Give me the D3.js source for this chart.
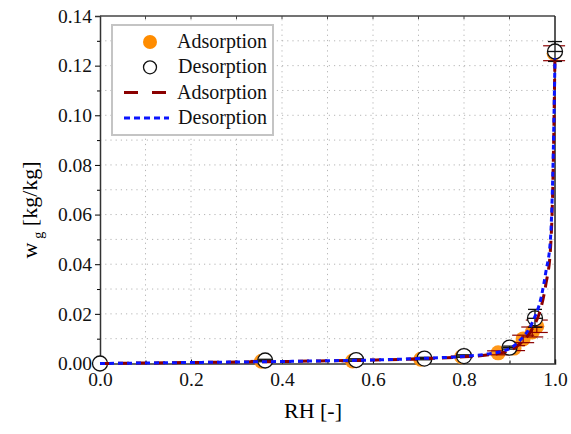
<!DOCTYPE html>
<html>
<head>
<meta charset="utf-8">
<script src="https://cdn.jsdelivr.net/npm/d3@7"></script>
<style>
  html, body { margin: 0; padding: 0; background: #fff; }
  svg { display: block; font-family: "Liberation Serif", "Times New Roman", serif; }
</style>
</head>
<body>
<div id="chart"></div>
<script>
// measured points (RH, moisture content, error)
const adsRH  = [0.0, 0.355, 0.555, 0.705, 0.795, 0.875, 0.91, 0.93, 0.95, 0.96, 0.998];
const adsW   = [0.0, 0.0009, 0.0010, 0.0017, 0.0027, 0.0043, 0.0062, 0.0099, 0.0127, 0.0150, 0.1250];
const adsErr = [0.0, 0.0003, 0.0003, 0.0003, 0.0003, 0.0008, 0.0010, 0.0015, 0.0020, 0.0025, 0.0030];

const desRH  = [0.0, 0.363, 0.563, 0.713, 0.80, 0.90, 0.956, 1.0];
const desW   = [0.0, 0.0012, 0.0014, 0.0020, 0.0030, 0.0064, 0.0182, 0.1257];
const desErr = [0.0, 0.0005, 0.0005, 0.0005, 0.0005, 0.0006, 0.0036, 0.0040];

// fitted curves
const fitRH   = [0.0, 0.1, 0.2, 0.3, 0.4, 0.5, 0.6, 0.7, 0.8, 0.85, 0.9, 0.92, 0.95, 0.97, 0.98, 0.99, 0.995, 1.0];
const fitAdsW = [0.0, 0.0002, 0.0004, 0.0006, 0.0008, 0.0011, 0.0014, 0.0019, 0.0027, 0.0034, 0.0052, 0.0075, 0.0140, 0.0230, 0.0320, 0.0460, 0.0700, 0.1245];
const fitDesW = [0.0, 0.0002, 0.0004, 0.0006, 0.0008, 0.0011, 0.0014, 0.0020, 0.0029, 0.0038, 0.0060, 0.0088, 0.0165, 0.0270, 0.0370, 0.0500, 0.0750, 0.1230];

const xTicks = [0, 0.2, 0.4, 0.6, 0.8, 1.0];
const yTicks = [0, 0.02, 0.04, 0.06, 0.08, 0.10, 0.12, 0.14];

const W = 571, H = 434;
const serif = "Liberation Serif, Times New Roman, serif";
const svg = d3.select("#chart").append("svg").attr("width", W).attr("height", H);

const x = d3.scaleLinear().domain([0, 1]).range([100, 555]);
const y = d3.scaleLinear().domain([0, 0.14]).range([363.5, 16]);

// --- Grid ---
const grid = svg.append("g").attr("stroke", "#b5b5b5").attr("stroke-width", 1).attr("stroke-dasharray", "1.2,4");
grid.selectAll("line.v").data(d3.range(1, 10).map(i => i / 10)).join("line")
  .attr("x1", d => x(d)).attr("x2", d => x(d)).attr("y1", y(0)).attr("y2", y(0.14));
grid.selectAll("line.h").data(d3.range(1, 14).map(i => i / 100)).join("line")
  .attr("x1", x(0)).attr("x2", x(1)).attr("y1", d => y(d)).attr("y2", d => y(d));

// --- Axes ---
const yAxis = svg.append("g").attr("transform", `translate(${x(0)},0)`)
  .call(d3.axisLeft(y).tickValues(yTicks).tickFormat(d3.format(".2f")).tickSize(5).tickPadding(3));
yAxis.selectAll(".tick").filter(d => d === 0.14 || d === 0).select("line").remove();
svg.append("g").attr("transform", `translate(${x(0)},0)`)
  .call(d3.axisLeft(y).tickValues(d3.range(1, 14, 2).map(i => i / 100)).tickSize(3).tickFormat(""))
  .select(".domain").remove();

const xAxis = svg.append("g").attr("transform", `translate(0,${y(0)})`)
  .call(d3.axisBottom(x).tickValues(xTicks).tickFormat(d3.format(".1f")).tickSize(-4).tickPadding(9));
svg.append("g").attr("transform", `translate(0,${y(0)})`)
  .call(d3.axisBottom(x).tickValues(d3.range(1, 10, 2).map(i => i / 10)).tickSize(-3).tickFormat(""))
  .select(".domain").remove();

[yAxis, xAxis].forEach(a => {
  a.attr("font-family", serif);
  a.selectAll("text").attr("font-size", 19.5).attr("fill", "#111");
  a.select(".domain").attr("stroke", "#333").attr("stroke-width", 1.5);
});
// top and right frame
svg.append("line").attr("x1", x(0)).attr("x2", x(1)).attr("y1", y(0.14)).attr("y2", y(0.14))
  .attr("stroke", "#444").attr("stroke-width", 1.5);
svg.append("line").attr("x1", x(1)).attr("x2", x(1)).attr("y1", y(0.14)).attr("y2", y(0))
  .attr("stroke", "#222").attr("stroke-width", 1.5);
svg.append("g").selectAll("line").data(d3.range(1, 10).map(i => i / 10)).join("line")
  .attr("x1", d => x(d)).attr("x2", d => x(d)).attr("y1", y(0.14)).attr("y2", y(0.14) + 3)
  .attr("stroke", "#444");

// --- Axis labels ---
svg.append("text").attr("x", 313).attr("y", 418).attr("text-anchor", "middle")
  .attr("font-family", serif).attr("font-size", 22).text("RH [-]");
const yl = svg.append("text").attr("transform", "translate(37,210) rotate(-90)")
  .attr("text-anchor", "middle").attr("font-family", serif).attr("font-size", 22);
yl.append("tspan").text("w");
yl.append("tspan").attr("font-size", 14).attr("dy", 6).attr("dx", 4).text("g");
yl.append("tspan").attr("dy", -6).text("\u00a0[kg/kg]");

// --- Data ---
const ads = adsRH.map((r, i) => ({ rh: r, w: adsW[i], e: adsErr[i] }));
const des = desRH.map((r, i) => ({ rh: r, w: desW[i], e: desErr[i] }));

svg.append("g").selectAll("circle").data(ads).join("circle")
  .attr("cx", d => x(d.rh)).attr("cy", d => y(d.w)).attr("r", 7.5)
  .attr("fill", "#ff8c00").attr("fill-opacity", 0.9);

function errorBars(data, color, cap, width, cross) {
  const g = svg.append("g").attr("stroke", color).attr("stroke-width", width);
  const eb = g.selectAll("g").data(data.filter(d => d.e > 0)).join("g");
  eb.append("line").attr("x1", d => x(d.rh)).attr("x2", d => x(d.rh))
    .attr("y1", d => y(d.w - d.e)).attr("y2", d => y(d.w + d.e));
  [-1, 1].forEach(s => {
    eb.append("line").attr("x1", d => x(d.rh) - cap).attr("x2", d => x(d.rh) + cap)
      .attr("y1", d => y(d.w + s * d.e)).attr("y2", d => y(d.w + s * d.e));
  });
  if (cross) {
    eb.append("line").attr("x1", d => x(d.rh) - 7).attr("x2", d => x(d.rh) + 7)
      .attr("y1", d => y(d.w)).attr("y2", d => y(d.w));
  }
}
errorBars(ads, "#8b0000", 11, 1.2, false);

svg.append("g").selectAll("circle").data(des).join("circle")
  .attr("cx", d => x(d.rh)).attr("cy", d => y(d.w)).attr("r", 7.5)
  .attr("fill", "#fff").attr("stroke", "#111").attr("stroke-width", 1.3);
errorBars(des, "#111", 7, 1.3, true);

const line = d3.line().x(d => x(d[0])).y(d => y(d[1])).curve(d3.curveMonotoneX);
svg.append("path").datum(fitRH.map((r, i) => [r, fitAdsW[i]]))
  .attr("d", line).attr("fill", "none").attr("stroke", "#8b0000")
  .attr("stroke-width", 3).attr("stroke-dasharray", "11,7");
svg.append("path").datum(fitRH.map((r, i) => [r, fitDesW[i]]))
  .attr("d", line).attr("fill", "none").attr("stroke", "#0a14ff")
  .attr("stroke-width", 3).attr("stroke-dasharray", "5,4");

// --- Legend ---
const lg = svg.append("g").attr("font-family", serif);
lg.append("rect").attr("x", 112).attr("y", 25).attr("width", 161).attr("height", 110)
  .attr("fill", "#fff").attr("stroke", "#c4c4c4").attr("stroke-width", 2);
const legendRows = [
  { label: "Adsorption", kind: "dot" },
  { label: "Desorption", kind: "ring" },
  { label: "Adsorption", kind: "dash" },
  { label: "Desorption", kind: "dot-line" },
];
legendRows.forEach((d, i) => {
  const cy = 42 + i * 25.3;
  if (d.kind === "dot") lg.append("circle").attr("cx", 150).attr("cy", cy).attr("r", 7).attr("fill", "#ff8c00");
  if (d.kind === "ring") lg.append("circle").attr("cx", 150).attr("cy", cy).attr("r", 6.5)
    .attr("fill", "none").attr("stroke", "#111").attr("stroke-width", 1.3);
  if (d.kind === "dash") lg.append("line").attr("x1", 124).attr("x2", 166).attr("y1", cy).attr("y2", cy)
    .attr("stroke", "#8b0000").attr("stroke-width", 3).attr("stroke-dasharray", "14,14");
  if (d.kind === "dot-line") lg.append("line").attr("x1", 124).attr("x2", 169).attr("y1", cy).attr("y2", cy)
    .attr("stroke", "#0a14ff").attr("stroke-width", 3).attr("stroke-dasharray", "6,4");
  lg.append("text").attr("x", 267).attr("y", cy + 6).attr("text-anchor", "end")
    .attr("font-size", 20).attr("fill", "#111").text(d.label);
});
</script>
</body>
</html>
